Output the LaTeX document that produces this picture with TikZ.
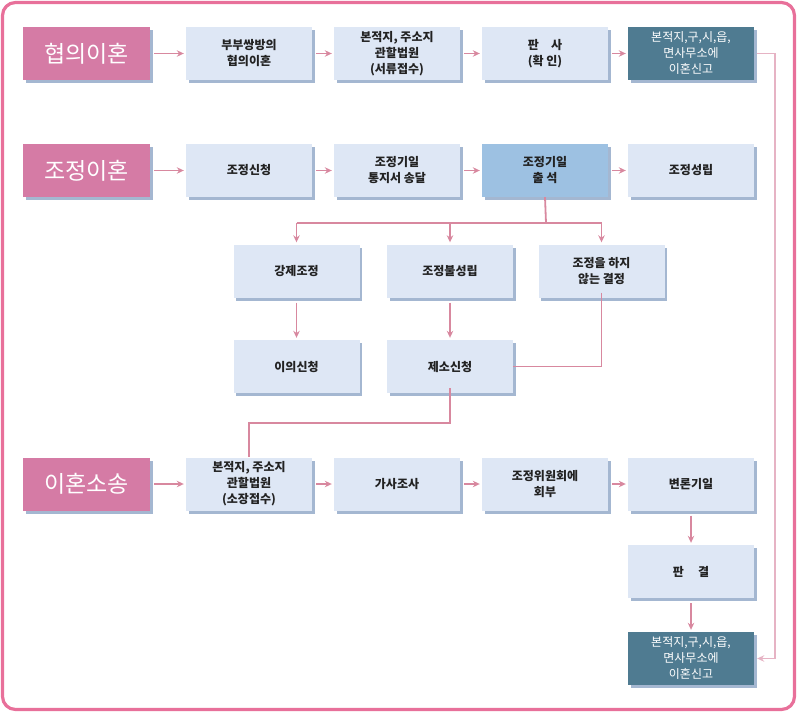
\documentclass[tikz,border=0pt]{standalone}
\usepackage{fontspec}
\setmainfont{Noto Sans CJK KR}
\usetikzlibrary{arrows.meta,shadows}
\definecolor{framepink}{HTML}{E8709A}
\definecolor{headpink}{HTML}{D57BA5}
\definecolor{boxlight}{HTML}{DEE7F5}
\definecolor{boxmid}{HTML}{9DC1E2}
\definecolor{boxdark}{HTML}{4F7B91}
\definecolor{shadowblue}{HTML}{7E98BE}
\definecolor{arrowpink}{HTML}{D8889F}
\definecolor{linepink}{HTML}{E6B3C4}
\definecolor{txt}{HTML}{222222}
\tikzset{
  basebox/.style={rectangle, inner sep=0pt, minimum width=126pt, minimum height=53pt, align=center,
    drop shadow={shadow xshift=2.5pt, shadow yshift=-3pt, fill=shadowblue, opacity=0.7}},
  lbox/.style={basebox, fill=boxlight, text=txt, font=\fontsize{12}{16}\selectfont\bfseries},
  mbox/.style={basebox, fill=boxmid, text=txt, font=\fontsize{12}{16}\selectfont\bfseries},
  dbox/.style={basebox, fill=boxdark, text=white, font=\fontsize{12}{16}\selectfont},
  hbox/.style={basebox, minimum width=127pt, fill=headpink, text=white, font=\fontsize{23}{26}\selectfont},
  harr/.style={draw=arrowpink, line width=1.8pt, -{Stealth[length=7pt,width=6.5pt]}, shorten <=4pt, shorten >=2pt},
  varr/.style={draw=arrowpink, line width=1.8pt, -{Stealth[length=7pt,width=6.5pt]}, shorten <=5pt, shorten >=2pt},
  conn/.style={draw=arrowpink, line width=1.8pt},
  conn2/.style={draw=linepink, line width=1.8pt},
}
\begin{document}
\begin{tikzpicture}[x=1pt,y=-1pt]
\useasboundingbox (0,0) rectangle (797,712);
\draw[framepink, line width=3.2pt, rounded corners=13pt] (2.5,2.5) rectangle (794.5,709.5);

% row 1
\node[hbox] (h1) at (86.5,53.5) {협의이혼};
\node[lbox] (b12) at (249,53.5) {부부쌍방의\\협의이혼};
\node[lbox] (b13) at (397,53.5) {본적지, 주소지\\관할법원\\(서류접수)};
\node[lbox] (b14) at (545,53.5) {판\hspace{1em}사\\(확 인)};
\node[dbox] (b15) at (691,53.5) {본적지,구,시,읍,\\면사무소에\\이혼신고};

% row 2
\node[hbox] (h2) at (86.5,170.5) {조정이혼};
\node[lbox] (b22) at (249,170.5) {조정신청};
\node[lbox] (b23) at (397,170.5) {조정기일\\통지서 송달};
\node[mbox] (b24) at (545,170.5) {조정기일\\출 석};
\node[lbox] (b25) at (691,170.5) {조정성립};

% row 3
\node[lbox] (s1) at (296.5,271) {강제조정};
\node[lbox] (s2) at (450,271) {조정불성립};
\node[lbox] (s3) at (601.5,271) {조정을 하지\\않는 결정};

% row 4
\node[lbox] (t1) at (296.5,366.5) {이의신청};
\node[lbox] (t2) at (450,366.5) {제소신청};

% row 5
\node[hbox] (h5) at (86.5,484) {이혼소송};
\node[lbox] (b52) at (249,484) {본적지, 주소지\\관할법원\\(소장접수)};
\node[lbox] (b53) at (397,484) {가사조사};
\node[lbox] (b54) at (545,484) {조정위원회에\\회부};
\node[lbox] (b55) at (691,484) {변론기일};

% rows 6,7
\node[lbox] (b65) at (691,571.5) {판\hspace{1.2em}결};
\node[dbox] (b75) at (691,658.5) {본적지,구,시,읍,\\면사무소에\\이혼신고};

% horizontal arrows
\draw[harr] (h1) -- (b12);
\draw[harr] (b12) -- (b13);
\draw[harr] (b13) -- (b14);
\draw[harr] (b14) -- (b15);
\draw[harr] (h2) -- (b22);
\draw[harr] (b22) -- (b23);
\draw[harr] (b23) -- (b24);
\draw[harr] (b24) -- (b25);
\draw[harr] (h5) -- (b52);
\draw[harr] (b52) -- (b53);
\draw[harr] (b53) -- (b54);
\draw[harr] (b54) -- (b55);

% branching
\coordinate (brk) at (546,223);
\draw[conn] (b24.south) -- (brk);
\draw[conn] (brk -| s1.north) -- (brk -| s3.north);
\draw[varr, shorten <=0pt] (brk -| s1.north) -- (s1.north);
\draw[varr, shorten <=0pt] (brk -| s2.north) -- (s2.north);
\draw[varr, shorten <=0pt] (brk -| s3.north) -- (s3.north);

\draw[varr] (s1.south) -- (t1.north);
\draw[varr] (s2.south) -- (t2.north);
\draw[conn] ([yshift=5pt]s3.south) |- (t2.east);

\coordinate (jn) at (450,423);
\draw[conn] ([yshift=5pt]t2.south) -- (jn) -| (b52.north);

\draw[varr] (b55.south) -- (b65.north);
\draw[varr] (b65.south) -- (b75.north);

% right line
\coordinate (rt) at (775,53.5);
\draw[conn2, -{Stealth[length=7pt,width=6.5pt]}, shorten >=3pt] ([xshift=3pt]b15.east) -- (rt) |- (b75.east);
\end{tikzpicture}
\end{document}
